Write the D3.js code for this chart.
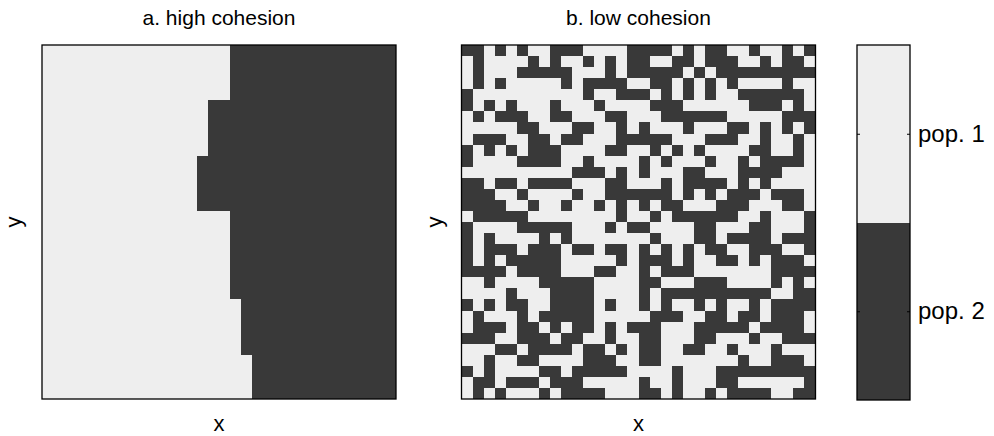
<!DOCTYPE html>
<html>
<head>
<meta charset="utf-8">
<script src="https://cdn.jsdelivr.net/npm/d3@7"></script>
<style>
  body { margin: 0; background: #fff; }
  svg { display: block; }
  text { font-family: "Liberation Sans", Arial, Helvetica, sans-serif; fill: #000; }
</style>
</head>
<body>
<svg id="chart" width="994" height="436"></svg>
<script>
// Lattice size (cells per side)
const gridSize = 32;

// Population labels and their fill colours
const populations = ["pop. 1", "pop. 2"];
const populationColors = ["#eeeeee", "#393939"];

const panelTitles = ["a. high cohesion", "b. low cohesion"];
const axisLabels = ["x", "y"];

// High cohesion: first column occupied by pop. 2 in each row (top to bottom)
const highCohesionEdge = [
  17, 17, 17, 17, 17, 15, 15, 15, 15, 15, 14, 14, 14, 14, 14, 17,
  17, 17, 17, 17, 17, 17, 17, 18, 18, 18, 18, 18, 19, 19, 19, 19
];

// Low cohesion: one string per row, 0 = pop. 1, 1 = pop. 2
const lowCohesionRows = [
  "11010100111000011110101100100101",
  "01000010100101011001101110010110",
  "01000111110001011111010111111111",
  "01010000010111100110101010000100",
  "10000000000100111010101001111110",
  "10101000100010000111000000111010",
  "01011100110001100011111100000111",
  "00000110001100101000100011010101",
  "01110011011000111110001110010010",
  "10101011100001100101010000110010",
  "10000111100100001010001001011110",
  "00000000001110101000110001111000",
  "11011011110001100010111101010000",
  "11100100001001111110101011101110",
  "11110010010010101011000111000110",
  "01111100000000100101111110010001",
  "10000111110001011000011000110001",
  "10100001010000000100011011110111",
  "10111011101101101010101100111001",
  "10101111100000101110100110101110",
  "11110111100011001011100000001111",
  "00100001111100001100011100001010",
  "00001000111100001011111111110011",
  "10101100111101001010010100101111",
  "01000101111100000111001101101110",
  "01110110101101011100011111011110",
  "11100111011001001100011000100111",
  "00011011110110101100110010001000",
  "00100110000111001100000001001110",
  "10100001101111100001000111111111",
  "01101110111000001001000110000001",
  "01010001011110001101001011110011"
];

// Build cell lists for both lattices
const cells = (lookup) => {
  const out = [];
  for (let r = 0; r < gridSize; r++)
    for (let c = 0; c < gridSize; c++)
      out.push({ row: r, col: c, pop: lookup(r, c) });
  return out;
};
const highCells = cells((r, c) => (c >= highCohesionEdge[r] ? 1 : 0));
const lowCells = cells((r, c) => +lowCohesionRows[r][c]);

const svg = d3.select("#chart");
const panelSize = 354;
const panelTop = 45;
const panels = [
  { left: 42, title: panelTitles[0], data: highCells, yLabelX: 21 },
  { left: 461.5, title: panelTitles[1], data: lowCells, yLabelX: 442 }
];

const color = d3.scaleOrdinal().domain([0, 1]).range(populationColors);
const band = d3.scaleBand().domain(d3.range(gridSize)).range([0, panelSize]);

panels.forEach(p => {
  const g = svg.append("g").attr("transform", `translate(${p.left},${panelTop})`);

  g.append("g")
    .attr("shape-rendering", "crispEdges")
    .selectAll("rect")
    .data(p.data)
    .join("rect")
    .attr("x", d => band(d.col))
    .attr("y", d => band(d.row))
    .attr("width", band.bandwidth())
    .attr("height", band.bandwidth())
    .attr("fill", d => color(d.pop));

  g.append("rect")
    .attr("width", panelSize)
    .attr("height", panelSize)
    .attr("fill", "none")
    .attr("stroke", "#000")
    .attr("stroke-width", 1.3);

  svg.append("text")
    .attr("x", p.left + panelSize / 2)
    .attr("y", 25)
    .attr("text-anchor", "middle")
    .attr("font-size", 21)
    .text(p.title);

  svg.append("text")
    .attr("x", p.left + panelSize / 2)
    .attr("y", 431)
    .attr("text-anchor", "middle")
    .attr("font-size", 22)
    .text(axisLabels[0]);

  svg.append("text")
    .attr("transform", `translate(${p.yLabelX},${panelTop + panelSize / 2}) rotate(-90)`)
    .attr("text-anchor", "middle")
    .attr("font-size", 22)
    .text(axisLabels[1]);
});

// Colour bar legend
const bar = { left: 857, top: 45, width: 53, height: 355 };
const barScale = d3.scaleBand().domain(populations).range([0, bar.height]);
const barG = svg.append("g").attr("transform", `translate(${bar.left},${bar.top})`);

barG.append("g")
  .attr("shape-rendering", "crispEdges")
  .selectAll("rect")
  .data(populations)
  .join("rect")
  .attr("x", 0)
  .attr("y", d => barScale(d))
  .attr("width", bar.width)
  .attr("height", barScale.bandwidth())
  .attr("fill", (d, i) => populationColors[i]);

const tickPos = d3.scalePoint().domain(populations)
  .range([barScale.bandwidth() / 2, bar.height - barScale.bandwidth() / 2]);

const rightAxis = barG.append("g")
  .attr("transform", `translate(${bar.width},0)`)
  .call(d3.axisRight(tickPos).tickSize(-3).tickPadding(8));
rightAxis.select(".domain").remove();
rightAxis.selectAll("text")
  .attr("font-size", 24)
  .attr("font-family", "\"Liberation Sans\", Arial, sans-serif")
  .attr("fill", "#000");
rightAxis.selectAll("line").attr("stroke", "#000");

const leftAxis = barG.append("g")
  .call(d3.axisLeft(tickPos).tickSize(-3).tickFormat(""));
leftAxis.select(".domain").remove();
leftAxis.selectAll("line").attr("stroke", "#000");

barG.append("rect")
  .attr("width", bar.width)
  .attr("height", bar.height)
  .attr("fill", "none")
  .attr("stroke", "#000")
  .attr("stroke-width", 1.3);
</script>
</body>
</html>
